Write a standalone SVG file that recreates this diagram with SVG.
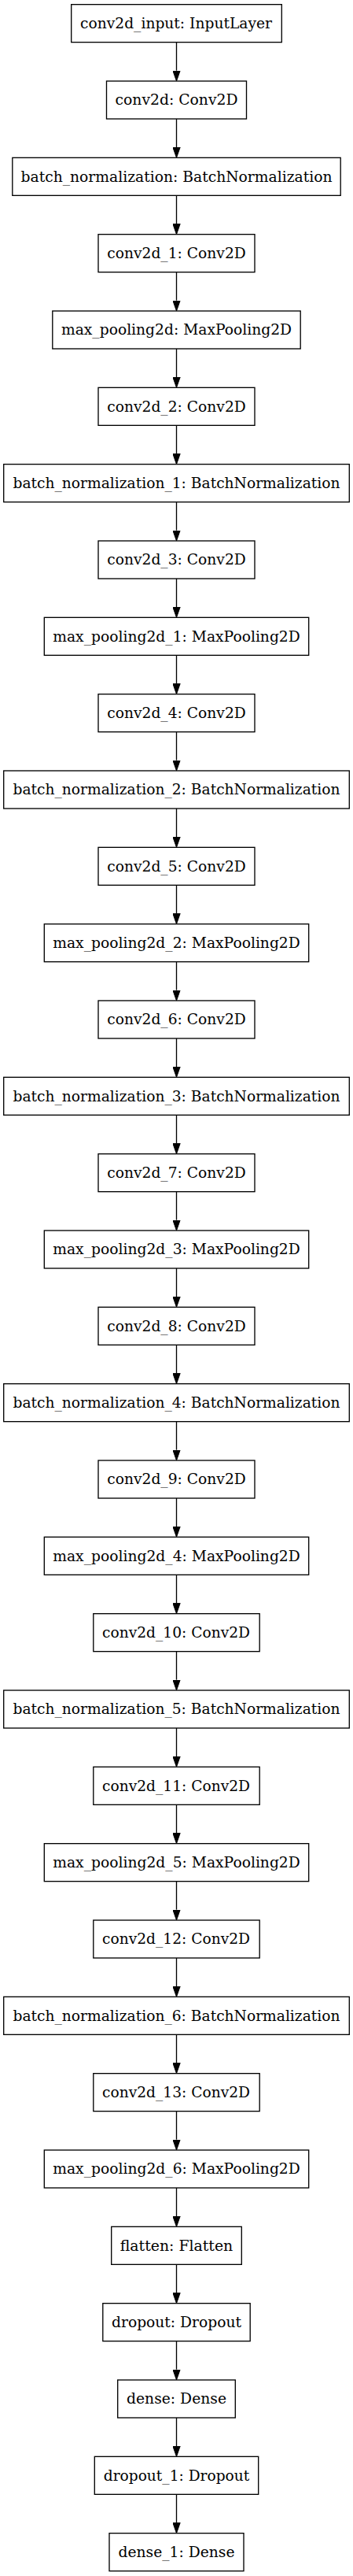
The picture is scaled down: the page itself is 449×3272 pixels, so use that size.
<svg xmlns="http://www.w3.org/2000/svg" width="449" height="3272" viewBox="0 0 449 3272">
<style>
.n rect{fill:#fff;stroke:#000;stroke-width:1.33}
.n text{font-family:"DejaVu Serif",serif;font-size:18.67px;fill:#000;text-anchor:middle}
.e line{stroke:#000;stroke-width:1.33;marker-end:url(#ah)}
</style>
<defs>
<marker id="ah" markerUnits="userSpaceOnUse" markerWidth="14" markerHeight="10" viewBox="0 -5 14 10" refX="0" refY="0" orient="auto">
<path d="M0,-4.67 L13.33,0 L0,4.67 z" fill="#000" stroke="#000" stroke-width="1"/>
</marker>
</defs>
<rect width="449" height="3272" fill="#fff"/>
<g id="edges" class="e">
<line x1="224.5" y1="53.67" x2="224.5" y2="89.67"/>
<line x1="224.5" y1="151" x2="224.5" y2="187"/>
<line x1="224.5" y1="248.33" x2="224.5" y2="284.33"/>
<line x1="224.5" y1="345.67" x2="224.5" y2="381.67"/>
<line x1="224.5" y1="443" x2="224.5" y2="479"/>
<line x1="224.5" y1="540.33" x2="224.5" y2="576.33"/>
<line x1="224.5" y1="637.67" x2="224.5" y2="673.67"/>
<line x1="224.5" y1="735" x2="224.5" y2="771"/>
<line x1="224.5" y1="832.33" x2="224.5" y2="868.33"/>
<line x1="224.5" y1="929.67" x2="224.5" y2="965.67"/>
<line x1="224.5" y1="1027" x2="224.5" y2="1063"/>
<line x1="224.5" y1="1124.33" x2="224.5" y2="1160.33"/>
<line x1="224.5" y1="1221.67" x2="224.5" y2="1257.67"/>
<line x1="224.5" y1="1319" x2="224.5" y2="1355"/>
<line x1="224.5" y1="1416.33" x2="224.5" y2="1452.33"/>
<line x1="224.5" y1="1513.67" x2="224.5" y2="1549.67"/>
<line x1="224.5" y1="1611" x2="224.5" y2="1647"/>
<line x1="224.5" y1="1708.33" x2="224.5" y2="1744.33"/>
<line x1="224.5" y1="1805.67" x2="224.5" y2="1841.67"/>
<line x1="224.5" y1="1903" x2="224.5" y2="1939"/>
<line x1="224.5" y1="2000.33" x2="224.5" y2="2036.33"/>
<line x1="224.5" y1="2097.67" x2="224.5" y2="2133.67"/>
<line x1="224.5" y1="2195" x2="224.5" y2="2231"/>
<line x1="224.5" y1="2292.33" x2="224.5" y2="2328.33"/>
<line x1="224.5" y1="2389.67" x2="224.5" y2="2425.67"/>
<line x1="224.5" y1="2487" x2="224.5" y2="2523"/>
<line x1="224.5" y1="2584.33" x2="224.5" y2="2620.33"/>
<line x1="224.5" y1="2681.67" x2="224.5" y2="2717.67"/>
<line x1="224.5" y1="2779" x2="224.5" y2="2815"/>
<line x1="224.5" y1="2876.33" x2="224.5" y2="2912.33"/>
<line x1="224.5" y1="2973.67" x2="224.5" y2="3009.67"/>
<line x1="224.5" y1="3071" x2="224.5" y2="3107"/>
<line x1="224.5" y1="3168.33" x2="224.5" y2="3204.33"/>
</g>
<g id="n0" class="n"><rect x="90.7" y="5.67" width="267.6" height="48"/><text x="224" y="35.97" textLength="244" lengthAdjust="spacingAndGlyphs">conv2d_input: InputLayer</text></g>
<g id="n1" class="n"><rect x="135.5" y="103" width="178" height="48"/><text x="224.5" y="133.3" textLength="156" lengthAdjust="spacingAndGlyphs">conv2d: Conv2D</text></g>
<g id="n2" class="n"><rect x="15.8" y="200.33" width="417.4" height="48"/><text x="224.5" y="230.63" textLength="396" lengthAdjust="spacingAndGlyphs">batch_normalization: BatchNormalization</text></g>
<g id="n3" class="n"><rect x="125" y="297.67" width="199" height="48"/><text x="224.5" y="327.97" textLength="176.5" lengthAdjust="spacingAndGlyphs">conv2d_1: Conv2D</text></g>
<g id="n4" class="n"><rect x="66.8" y="395" width="315.4" height="48"/><text x="224.5" y="425.3" textLength="293" lengthAdjust="spacingAndGlyphs">max_pooling2d: MaxPooling2D</text></g>
<g id="n5" class="n"><rect x="125" y="492.33" width="199" height="48"/><text x="224.5" y="522.63" textLength="176.5" lengthAdjust="spacingAndGlyphs">conv2d_2: Conv2D</text></g>
<g id="n6" class="n"><rect x="4.7" y="589.67" width="439.6" height="48"/><text x="224.5" y="619.97" textLength="416" lengthAdjust="spacingAndGlyphs">batch_normalization_1: BatchNormalization</text></g>
<g id="n7" class="n"><rect x="125" y="687" width="199" height="48"/><text x="224.5" y="717.3" textLength="176.5" lengthAdjust="spacingAndGlyphs">conv2d_3: Conv2D</text></g>
<g id="n8" class="n"><rect x="56.3" y="784.33" width="336.4" height="48"/><text x="224.5" y="814.63" textLength="314.5" lengthAdjust="spacingAndGlyphs">max_pooling2d_1: MaxPooling2D</text></g>
<g id="n9" class="n"><rect x="125" y="881.67" width="199" height="48"/><text x="224.5" y="911.97" textLength="176.5" lengthAdjust="spacingAndGlyphs">conv2d_4: Conv2D</text></g>
<g id="n10" class="n"><rect x="4.7" y="979" width="439.6" height="48"/><text x="224.5" y="1009.3" textLength="416" lengthAdjust="spacingAndGlyphs">batch_normalization_2: BatchNormalization</text></g>
<g id="n11" class="n"><rect x="125" y="1076.33" width="199" height="48"/><text x="224.5" y="1106.63" textLength="176.5" lengthAdjust="spacingAndGlyphs">conv2d_5: Conv2D</text></g>
<g id="n12" class="n"><rect x="56.3" y="1173.67" width="336.4" height="48"/><text x="224.5" y="1203.97" textLength="314.5" lengthAdjust="spacingAndGlyphs">max_pooling2d_2: MaxPooling2D</text></g>
<g id="n13" class="n"><rect x="125" y="1271" width="199" height="48"/><text x="224.5" y="1301.3" textLength="176.5" lengthAdjust="spacingAndGlyphs">conv2d_6: Conv2D</text></g>
<g id="n14" class="n"><rect x="4.7" y="1368.33" width="439.6" height="48"/><text x="224.5" y="1398.63" textLength="416" lengthAdjust="spacingAndGlyphs">batch_normalization_3: BatchNormalization</text></g>
<g id="n15" class="n"><rect x="125" y="1465.67" width="199" height="48"/><text x="224.5" y="1495.97" textLength="176.5" lengthAdjust="spacingAndGlyphs">conv2d_7: Conv2D</text></g>
<g id="n16" class="n"><rect x="56.3" y="1563" width="336.4" height="48"/><text x="224.5" y="1593.3" textLength="314.5" lengthAdjust="spacingAndGlyphs">max_pooling2d_3: MaxPooling2D</text></g>
<g id="n17" class="n"><rect x="125" y="1660.33" width="199" height="48"/><text x="224.5" y="1690.63" textLength="176.5" lengthAdjust="spacingAndGlyphs">conv2d_8: Conv2D</text></g>
<g id="n18" class="n"><rect x="4.7" y="1757.67" width="439.6" height="48"/><text x="224.5" y="1787.97" textLength="416" lengthAdjust="spacingAndGlyphs">batch_normalization_4: BatchNormalization</text></g>
<g id="n19" class="n"><rect x="125" y="1855" width="199" height="48"/><text x="224.5" y="1885.3" textLength="176.5" lengthAdjust="spacingAndGlyphs">conv2d_9: Conv2D</text></g>
<g id="n20" class="n"><rect x="56.3" y="1952.33" width="336.4" height="48"/><text x="224.5" y="1982.63" textLength="314.5" lengthAdjust="spacingAndGlyphs">max_pooling2d_4: MaxPooling2D</text></g>
<g id="n21" class="n"><rect x="118.8" y="2049.67" width="211.4" height="48"/><text x="224" y="2079.97" textLength="188" lengthAdjust="spacingAndGlyphs">conv2d_10: Conv2D</text></g>
<g id="n22" class="n"><rect x="4.7" y="2147" width="439.6" height="48"/><text x="224.5" y="2177.3" textLength="416" lengthAdjust="spacingAndGlyphs">batch_normalization_5: BatchNormalization</text></g>
<g id="n23" class="n"><rect x="118.8" y="2244.33" width="211.4" height="48"/><text x="224" y="2274.63" textLength="188" lengthAdjust="spacingAndGlyphs">conv2d_11: Conv2D</text></g>
<g id="n24" class="n"><rect x="56.3" y="2341.67" width="336.4" height="48"/><text x="224.5" y="2371.97" textLength="314.5" lengthAdjust="spacingAndGlyphs">max_pooling2d_5: MaxPooling2D</text></g>
<g id="n25" class="n"><rect x="118.8" y="2439" width="211.4" height="48"/><text x="224" y="2469.3" textLength="188" lengthAdjust="spacingAndGlyphs">conv2d_12: Conv2D</text></g>
<g id="n26" class="n"><rect x="4.7" y="2536.33" width="439.6" height="48"/><text x="224.5" y="2566.63" textLength="416" lengthAdjust="spacingAndGlyphs">batch_normalization_6: BatchNormalization</text></g>
<g id="n27" class="n"><rect x="118.8" y="2633.67" width="211.4" height="48"/><text x="224" y="2663.97" textLength="188" lengthAdjust="spacingAndGlyphs">conv2d_13: Conv2D</text></g>
<g id="n28" class="n"><rect x="56.3" y="2731" width="336.4" height="48"/><text x="224.5" y="2761.3" textLength="314.5" lengthAdjust="spacingAndGlyphs">max_pooling2d_6: MaxPooling2D</text></g>
<g id="n29" class="n"><rect x="141.7" y="2828.33" width="165.6" height="48"/><text x="224.5" y="2858.63" textLength="143.5" lengthAdjust="spacingAndGlyphs">flatten: Flatten</text></g>
<g id="n30" class="n"><rect x="130.8" y="2925.67" width="187.4" height="48"/><text x="224.5" y="2955.97" textLength="165" lengthAdjust="spacingAndGlyphs">dropout: Dropout</text></g>
<g id="n31" class="n"><rect x="149.7" y="3023" width="149.6" height="48"/><text x="224.5" y="3053.3" textLength="127" lengthAdjust="spacingAndGlyphs">dense: Dense</text></g>
<g id="n32" class="n"><rect x="120.3" y="3120.33" width="208.4" height="48"/><text x="224.5" y="3150.63" textLength="185.5" lengthAdjust="spacingAndGlyphs">dropout_1: Dropout</text></g>
<g id="n33" class="n"><rect x="139" y="3217.67" width="171" height="48"/><text x="224.5" y="3247.97" textLength="148" lengthAdjust="spacingAndGlyphs">dense_1: Dense</text></g>
</svg>
